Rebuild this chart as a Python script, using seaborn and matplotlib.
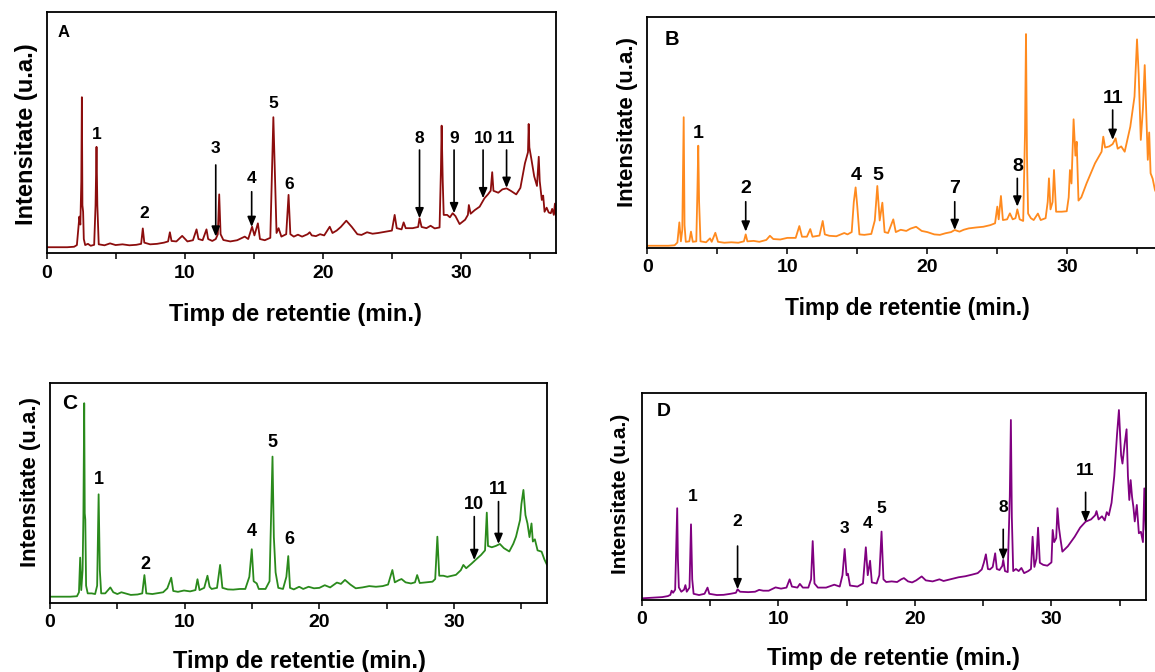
import matplotlib
matplotlib.use("Agg")
import matplotlib.pyplot as plt
import seaborn as sns

# ---------------- data (retention time in min, intensity in a.u.) ----------------
time_A = [0.0, 1.5, 2.0, 2.2, 2.3, 2.38, 2.45, 2.52, 2.56, 2.6, 2.65, 2.7, 2.8, 3.0, 3.2, 3.45, 3.55, 3.62,
          3.68, 3.78, 4.2, 4.6, 5.0, 5.5, 6.0, 6.5, 6.85, 6.97, 7.08, 7.5, 8.0, 8.5, 8.8, 8.93, 9.05, 9.4,
          9.82, 10.2, 10.6, 10.86, 11.0, 11.3, 11.58, 11.7, 12.0, 12.25, 12.4, 12.5, 12.6, 12.8, 13.3, 13.8,
          14.35, 14.6, 14.88, 15.05, 15.3, 15.45, 15.8, 16.2, 16.3, 16.42, 16.55, 16.65, 16.8, 17.0, 17.35,
          17.52, 17.65, 17.9, 18.2, 18.5, 18.9, 19.05, 19.2, 19.5, 19.8, 20.1, 20.5, 20.7, 21.0, 21.3, 21.7,
          22.1, 22.5, 22.8, 23.2, 23.6, 24.0, 24.5, 25.0, 25.2, 25.35, 25.7, 25.85, 26.0, 26.5, 26.9, 27.0,
          27.15, 27.5, 27.8, 28.1, 28.45, 28.55, 28.6, 28.68, 28.75, 29.0, 29.2, 29.4, 29.6, 29.9, 30.3,
          30.5, 30.57, 30.7, 31.0, 31.35, 31.7, 31.95, 32.15, 32.26, 32.35, 32.7, 33.0, 33.3, 33.6, 34.0,
          34.3, 34.63, 34.85, 34.9, 34.95, 35.1, 35.3, 35.5, 35.63, 35.7, 35.85, 35.95, 36.05, 36.2, 36.35,
          36.5, 36.6, 36.72, 36.8, 36.9]
int_A = [2.6, 2.6, 2.8, 3.5, 10.0, 15.3, 12.0, 30.0, 64.8, 20.0, 17.3, 6.0, 3.5, 4.0, 3.2, 3.6, 20.0, 44.2,
         20.0, 3.8, 3.4, 4.2, 3.5, 3.8, 3.4, 3.6, 4.0, 10.4, 4.5, 3.8, 4.0, 4.5, 5.0, 8.8, 5.2, 5.0,
         7.3, 5.0, 5.5, 10.0, 6.0, 5.5, 10.0, 6.0, 5.2, 6.0, 8.0, 24.5, 8.0, 5.6, 5.0, 5.5,
         7.0, 6.0, 11.1, 7.5, 12.5, 6.0, 5.5, 6.5, 30.0, 56.5, 30.0, 8.5, 10.5, 7.0, 8.0,
         24.3, 8.0, 7.0, 7.8, 7.0, 8.0, 8.8, 7.5, 7.2, 8.0, 7.5, 11.1, 8.5, 9.5, 11.0, 13.6,
         11.0, 8.0, 7.7, 8.8, 8.2, 8.5, 9.0, 9.5, 16.0, 10.5, 10.0, 12.9, 10.5, 10.5, 11.0, 14.6,
         11.0, 10.5, 11.5, 10.4, 10.8, 35.0, 53.0, 30.0, 16.0, 16.0, 15.0, 16.7, 15.5, 12.2, 14.0,
         16.0, 20.1, 16.5, 18.0, 19.4, 22.9, 24.5, 26.0, 33.7, 26.0, 25.2, 26.6, 27.0, 26.0, 24.5,
         27.2, 37.4, 42.0, 53.7, 44.0, 39.0, 32.0, 28.0, 40.1, 30.0, 22.2, 24.0, 17.3, 19.0, 17.0,
         16.7, 18.5, 16.0, 20.7, 13.9]

time_B = [0.0, 1.5, 1.95, 2.15, 2.29, 2.4, 2.5, 2.6, 2.66, 2.75, 3.0, 3.12, 3.25, 3.5, 3.58, 3.64, 3.7,
          3.8, 4.2, 4.48, 4.6, 4.86, 5.05, 5.5, 6.0, 6.5, 6.9, 7.03, 7.15, 7.6, 8.0, 8.5, 8.76, 9.0, 9.5,
          10.0, 10.6, 10.86, 11.05, 11.4, 11.64, 11.8, 12.3, 12.53, 12.68, 13.0, 13.5, 14.07, 14.3, 14.6,
          14.75, 14.88, 15.0, 15.15, 15.5, 16.0, 16.25, 16.43, 16.6, 16.79, 16.95, 17.2, 17.57, 17.75,
          18.1, 18.5, 18.8, 19.2, 19.6, 20.0, 20.5, 20.9, 21.3, 21.7, 21.96, 22.3, 22.6, 22.96, 23.5,
          24.0, 24.5, 24.84, 25.0, 25.1, 25.26, 25.4, 25.7, 25.9, 26.1, 26.3, 26.43, 26.6, 26.85, 26.98,
          27.05, 27.12, 27.2, 27.4, 27.6, 27.9, 28.1, 28.45, 28.6, 28.69, 28.8, 28.95, 29.05, 29.2, 29.6,
          29.96, 30.1, 30.19, 30.3, 30.45, 30.58, 30.67, 30.8, 31.0, 31.38, 31.98, 32.45, 32.57, 32.7,
          33.0, 33.24, 33.45, 33.6, 33.85, 34.1, 34.5, 34.8, 34.98, 35.1, 35.25, 35.4, 35.53, 35.65,
          35.75, 35.85, 35.95, 36.1, 36.26, 36.5, 36.9]
int_B = [1.1, 1.1, 1.3, 2.5, 11.2, 3.0, 8.0, 56.6, 10.0, 2.8, 3.0, 7.2, 2.8, 3.0, 25.0, 44.3, 20.0,
         3.0, 2.6, 4.3, 2.8, 6.7, 2.8, 2.4, 2.6, 2.4, 3.0, 6.0, 3.0, 3.2, 2.8, 3.6, 5.4, 4.0, 3.8,
         4.5, 4.5, 9.6, 5.0, 5.0, 8.3, 5.0, 5.5, 11.8, 6.0, 5.4, 5.2, 6.6, 6.0, 7.0,
         20.0, 26.3, 18.0, 6.0, 5.8, 6.2, 12.0, 26.9, 12.0, 19.7, 7.0, 6.6, 12.5, 7.0,
         8.0, 7.5, 8.5, 9.3, 7.5, 7.0, 6.0, 5.8, 6.5, 7.0, 7.9, 7.2, 8.0, 8.6, 9.0,
         9.3, 10.0, 10.8, 18.0, 12.5, 22.6, 12.2, 12.5, 15.1, 12.5, 13.0, 16.8, 12.5, 11.8, 50.0,
         92.5, 40.0, 15.0, 13.0, 12.2, 15.0, 12.2, 13.0, 20.0, 30.2, 16.8, 20.0, 33.8, 15.8, 15.8,
         16.0, 22.0, 33.8, 28.0, 55.7, 40.0, 46.0, 20.6, 22.0, 28.1, 36.7, 41.7, 48.2, 43.5,
         44.0, 45.0, 47.5, 43.0, 44.0, 41.7, 52.5, 65.5, 90.2, 75.0, 46.8, 60.0, 79.1, 56.8,
         38.2, 50.0, 32.4, 30.0, 25.2, 22.0, 20.0]

time_C = [0.0, 1.5, 2.0, 2.15, 2.24, 2.32, 2.42, 2.48, 2.54, 2.58, 2.62, 2.68, 2.8, 3.1, 3.35, 3.5, 3.61,
          3.7, 3.8, 4.1, 4.48, 4.7, 5.0, 5.3, 5.6, 6.0, 6.5, 6.85, 7.01, 7.15, 7.6, 8.0, 8.4, 8.71, 9.0,
          9.15, 9.5, 9.95, 10.4, 10.8, 10.95, 11.1, 11.45, 11.69, 11.85, 12.0, 12.4, 12.63, 12.8, 13.2,
          13.6, 14.1, 14.5, 14.8, 14.98, 15.12, 15.35, 15.5, 16.0, 16.3, 16.42, 16.52, 16.62, 16.75,
          16.95, 17.3, 17.55, 17.69, 17.82, 18.1, 18.5, 18.8, 19.2, 19.6, 20.0, 20.4, 20.8, 21.3, 21.6,
          21.9, 22.3, 22.7, 23.2, 23.7, 24.2, 24.7, 25.1, 25.42, 25.6, 25.9, 26.1, 26.4, 26.8, 27.1,
          27.26, 27.45, 27.9, 28.4, 28.6, 28.76, 28.9, 29.2, 29.5, 30.14, 30.5, 30.69, 30.9, 31.3, 31.58,
          32.0, 32.3, 32.43, 32.52, 32.8, 33.1, 33.4, 33.7, 34.1, 34.4, 34.6, 34.9, 35.0, 35.15, 35.3,
          35.45, 35.6, 35.75, 35.85, 36.0, 36.2, 36.5, 36.7, 36.9]
int_C = [3.0, 3.0, 3.2, 5.0, 20.7, 6.0, 15.0, 40.0, 90.7, 40.8, 38.0, 8.0, 4.5, 4.5, 4.2, 8.0, 49.4,
         15.0, 4.5, 4.5, 7.2, 5.0, 4.2, 5.0, 4.5, 3.8, 4.0, 4.5, 12.8, 4.5, 4.2, 4.6, 5.0, 6.8, 11.6,
         5.6, 5.2, 5.8, 5.4, 6.0, 10.9, 6.0, 7.0, 12.5, 7.5, 6.5, 7.0, 17.4, 7.0, 6.3,
         6.2, 6.5, 6.5, 12.0, 24.5, 10.0, 9.0, 6.5, 6.5, 10.0, 40.0, 66.5, 30.0, 14.0,
         7.0, 6.5, 12.0, 21.4, 7.0, 6.3, 7.5, 6.5, 7.5, 6.8, 7.0, 8.2, 7.2, 9.4, 8.8,
         10.6, 8.5, 6.8, 7.2, 7.8, 7.5, 7.8, 8.5, 15.1, 9.5, 10.5, 11.0, 9.5, 9.0, 9.5,
         12.8, 9.2, 9.5, 9.8, 11.0, 30.2, 12.5, 12.5, 12.0, 12.9, 15.0, 17.4, 15.9, 18.0, 19.6,
         21.9, 24.0, 41.1, 26.0, 25.4, 26.0, 26.9, 25.0, 23.5, 27.0, 30.2, 37.8, 45.0, 51.4, 40.0,
         36.2, 30.0, 36.2, 28.0, 29.0, 24.0, 23.4, 20.0, 17.4]

time_D = [0.0, 0.5, 1.0, 1.5, 1.92, 2.1, 2.19, 2.3, 2.45, 2.55, 2.6, 2.65, 2.72, 2.9, 3.1, 3.2, 3.3, 3.5,
          3.61, 3.7, 3.8, 4.2, 4.6, 4.82, 4.95, 5.5, 6.0, 6.5, 6.9, 7.02, 7.2, 7.8, 8.3, 8.6, 8.9, 9.3,
          9.8, 10.2, 10.6, 10.83, 11.0, 11.4, 11.58, 11.8, 12.2, 12.4, 12.52, 12.65, 12.9, 13.5, 14.1,
          14.5, 14.7, 14.86, 15.0, 15.1, 15.25, 15.8, 16.2, 16.41, 16.55, 16.72, 16.85, 17.2, 17.4, 17.56,
          17.7, 17.9, 18.3, 18.7, 19.0, 19.2, 19.5, 19.8, 20.1, 20.5, 20.8, 21.3, 21.8, 22.1, 22.6, 23.2,
          23.7, 24.2, 24.6, 24.9, 25.05, 25.2, 25.35, 25.5, 25.7, 25.88, 26.0, 26.2, 26.4, 26.47, 26.6,
          26.8, 26.95, 27.03, 27.1, 27.2, 27.4, 27.6, 27.8, 28.0, 28.3, 28.5, 28.62, 28.75, 28.9, 29.02,
          29.15, 29.4, 29.7, 30.0, 30.09, 30.2, 30.35, 30.44, 30.55, 30.65, 30.8, 31.2, 31.7, 32.1, 32.5,
          32.9, 33.2, 33.3, 33.45, 33.7, 33.9, 34.05, 34.2, 34.4, 34.6, 34.8, 34.94, 35.1, 35.2, 35.35,
          35.5, 35.6, 35.7, 35.8, 35.9, 36.0, 36.1, 36.25, 36.4, 36.55, 36.7, 36.8, 36.9]
int_D = [0.8, 1.0, 1.2, 1.4, 1.9, 2.5, 4.5, 3.5, 5.0, 30.0, 44.4, 20.0, 6.1, 4.0, 5.0, 7.2, 4.0, 6.0,
         36.6, 10.0, 3.0, 2.4, 3.0, 6.0, 3.0, 2.4, 2.5, 3.0, 3.5, 5.2, 4.0, 3.8, 4.0, 4.9, 4.5, 4.5,
         6.1, 5.5, 6.0, 10.0, 6.5, 6.0, 7.8, 6.0, 6.0, 10.0, 28.5, 8.0, 6.0, 6.0, 7.4,
         6.5, 12.0, 24.7, 12.0, 12.7, 7.0, 6.5, 8.0, 25.5, 12.0, 19.0, 8.5, 8.0, 12.0, 33.1,
         10.0, 8.7, 9.0, 8.7, 10.0, 10.6, 9.0, 8.5, 9.5, 11.4, 9.5, 9.0, 10.0, 9.2, 10.0, 11.0,
         11.5, 12.3, 13.0, 14.8, 18.0, 22.1, 15.0, 14.8, 16.0, 22.6, 15.0, 14.5, 16.5, 19.4, 14.0,
         13.5, 50.0, 87.1, 40.0, 14.0, 15.0, 14.0, 15.5, 13.0, 14.0, 15.0, 30.6, 16.0, 20.0, 35.0,
         18.0, 17.0, 16.6, 18.2, 33.9, 28.0, 30.0, 44.4, 35.0, 30.0, 23.4, 26.0, 30.6, 35.0, 37.9,
         39.0, 41.0, 43.0, 39.0, 40.5, 38.5, 42.5, 41.0, 47.0, 60.0, 80.0, 91.9, 70.0, 66.0, 75.0,
         82.6, 60.0, 48.4, 58.0, 50.0, 45.0, 38.0, 46.0, 32.3, 33.0, 28.0, 54.0, 33.9]

# peak labels: (text, x, y_text, arrow_tail_y or None, arrow_tip_y or None)
labels_A = [("1", 3.62, 49.4, None, None), ("2", 7.1, 16.7, None, None),
            ("3", 12.25, 43.6, 36.7, 7.0), ("4", 14.85, 30.9, 25.6, 11.0),
            ("5", 16.45, 62.3, None, None), ("6", 17.6, 28.7, None, None),
            ("8", 27.0, 47.8, 42.9, 14.6), ("9", 29.5, 47.8, 42.9, 16.7),
            ("10", 31.6, 47.8, 42.9, 22.9), ("11", 33.3, 47.8, 42.9, 27.2)]
labels_B = [("1", 3.64, 49.7, None, None), ("2", 7.03, 25.9, 20.1, 7.2),
            ("4", 14.9, 31.6, None, None), ("5", 16.5, 31.6, None, None),
            ("7", 21.96, 25.9, 20.1, 7.9), ("8", 26.43, 35.2, 30.2, 18.0),
            ("11", 33.24, 64.8, 59.7, 46.8)]
labels_C = [("1", 3.65, 56.2, None, None), ("2", 7.05, 17.4, None, None),
            ("4", 14.98, 32.5, None, None), ("5", 16.55, 72.8, None, None),
            ("6", 17.75, 29.1, None, None), ("10", 31.5, 44.6, 39.3, 19.6),
            ("11", 33.3, 51.4, 46.1, 26.9)]
labels_D = [("1", 3.72, 50.0, None, None), ("2", 7.02, 37.9, 26.1, 5.2),
            ("3", 14.86, 34.4, None, None), ("4", 16.55, 36.8, None, None),
            ("5", 17.56, 44.4, None, None), ("8", 26.47, 44.9, 34.2, 19.4),
            ("11", 32.5, 62.5, 52.1, 37.6)]

xticks_major = [0, 10, 20, 30]
xticks_minor = [5, 15, 25, 35]

# ---------------- styling ----------------
sns.set_theme(style="white")
plt.rcParams["font.family"] = ["Liberation Sans", "DejaVu Sans"]
plt.rcParams["font.weight"] = "bold"
plt.rcParams["text.color"] = "black"
plt.rcParams["axes.labelcolor"] = "black"
plt.rcParams["xtick.color"] = "black"
plt.rcParams["xtick.labelcolor"] = "black"

fig = plt.figure(figsize=(11.55, 6.72), dpi=100)

panels = [
    dict(letter="A", t=time_A, v=int_A, labels=labels_A, color="#8c0d0d",
         rect=[0.04026, 0.62277, 0.44139, 0.35893], xl=(0.489, -0.251), yl=(-0.040, 0.495),
         letter_pos=(0.033, 0.917), letter_fs=12, ann_fs=12.5, xl_fs=17, yl_fs=17, xmax=36.9),
    dict(letter="B", t=time_B, v=int_B, labels=labels_B, color="#ff8a1e",
         rect=[0.56043, 0.63051, 0.44727, 0.34464], xl=(0.504, -0.258), yl=(-0.038, 0.547),
         letter_pos=(0.047, 0.90), letter_fs=14.5, ann_fs=14, xl_fs=16.5, yl_fs=16, xmax=36.9),
    dict(letter="C", t=time_C, v=int_C, labels=labels_C, color="#2a8a1c",
         rect=[0.04329, 0.10223, 0.43030, 0.32827], xl=(0.501, -0.265), yl=(-0.039, 0.551),
         letter_pos=(0.040, 0.907), letter_fs=15, ann_fs=13, xl_fs=17, yl_fs=16, xmax=36.9),
    dict(letter="D", t=time_D, v=int_D, labels=labels_D, color="#800080",
         rect=[0.55558, 0.10714, 0.43636, 0.30759], xl=(0.50, -0.282), yl=(-0.043, 0.513),
         letter_pos=(0.043, 0.911), letter_fs=14, ann_fs=12.5, xl_fs=17, yl_fs=15, xmax=36.9),
]

for p in panels:
    ax = fig.add_axes(p["rect"])
    sns.lineplot(x=p["t"], y=p["v"], ax=ax, color=p["color"], lw=1.3,
                 estimator=None, sort=False, legend=False)
    ax.set_xlim(0, p["xmax"])
    ax.set_ylim(0, 100)
    ax.set_xticks(xticks_major)
    ax.set_xticks(xticks_minor, minor=True)
    ax.set_xticklabels([str(v) for v in xticks_major], fontsize=14, fontweight="bold",
                       color="black")
    ax.set_yticks([])
    ax.tick_params(axis="x", which="both", direction="out", length=4, width=1.1,
                   bottom=True, top=False, pad=4, color="black")
    for s in ax.spines.values():
        s.set_visible(True)
        s.set_color("black")
        s.set_linewidth(1.3)
    ax.set_facecolor("white")

    ax.set_xlabel("Timp de retentie (min.)", fontsize=p["xl_fs"], fontweight="bold", color="black")
    ax.xaxis.label.set_va("center")
    ax.xaxis.set_label_coords(*p["xl"])
    ax.set_ylabel("Intensitate (u.a.)", fontsize=p["yl_fs"], fontweight="bold", color="black")
    ax.yaxis.label.set_va("center")
    ax.yaxis.set_label_coords(*p["yl"])

    ax.text(p["letter_pos"][0], p["letter_pos"][1], p["letter"], transform=ax.transAxes,
            fontsize=p["letter_fs"], fontweight="bold", ha="center", va="center", color="black")

    for txt, x, yt, ya, yb in p["labels"]:
        ax.text(x, yt, txt, fontsize=p["ann_fs"], fontweight="bold", ha="center", va="center",
                color="black")
        if ya is not None:
            ax.annotate("", xy=(x, yb), xytext=(x, ya),
                        arrowprops=dict(arrowstyle="-|>,head_length=0.6,head_width=0.25",
                                        color="black", lw=1.2, mutation_scale=10,
                                        shrinkA=0, shrinkB=0))

fig.savefig("out.png", dpi=100, facecolor="white")
